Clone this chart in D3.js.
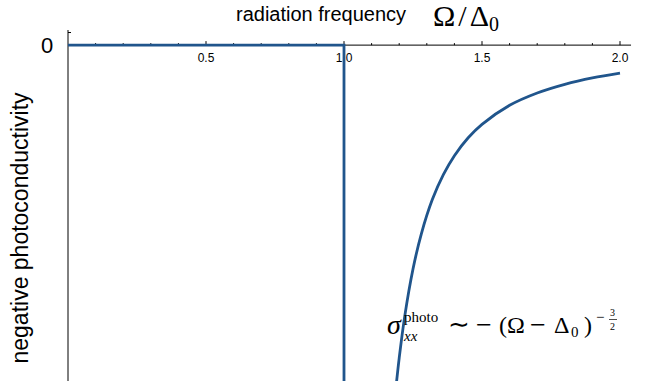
<!DOCTYPE html>
<html>
<head>
<meta charset="utf-8">
<script src="https://cdn.jsdelivr.net/npm/d3@7"></script>
<style>
  body { margin: 0; background: #fff; }
  svg { display: block; }
</style>
</head>
<body>
<div id="viz"></div>
<script>
// step part: zero below the gap, drops at Omega = Delta0
var stepOmega = [0, 1, 1];
var stepSigma = [0, 0, -12.5];

// divergent branch above the gap
var curveOmega = [1.19, 1.2, 1.22, 1.25, 1.28, 1.32, 1.36, 1.4, 1.45, 1.5, 1.6, 1.7, 1.8, 1.9, 2.0];
var curveSigma = [-12.07, -11.18, -9.69, -8.0, -6.75, -5.52, -4.63, -3.95, -3.31, -2.83, -2.15, -1.71, -1.40, -1.17, -1.0];

var majorTicks = [0.5, 1.0, 1.5, 2.0];
var minorTicks = [0.1, 0.2, 0.3, 0.4, 0.6, 0.7, 0.8, 0.9, 1.1, 1.2, 1.3, 1.4, 1.6, 1.7, 1.8, 1.9];

var W = 650, H = 381;
var blue = "#20558c";
var sans = "Liberation Sans, Arial, sans-serif";
var serif = "Liberation Serif, serif";

var svg = d3.select("#viz").append("svg")
  .attr("width", W)
  .attr("height", H);

var x = d3.scaleLinear().domain([0, 2]).range([68, 620]);
var y = d3.scaleLinear().domain([-12.0, 0.54]).range([381, 30]);

svg.append("defs").append("clipPath").attr("id", "clip")
  .append("rect").attr("x", 60).attr("y", 20).attr("width", 590).attr("height", H - 20);

// axes
svg.append("line")
  .attr("x1", x(0)).attr("x2", x(2.04))
  .attr("y1", y(0)).attr("y2", y(0))
  .attr("stroke", "#000").attr("stroke-width", 1);
svg.append("line")
  .attr("x1", x(0)).attr("x2", x(0))
  .attr("y1", y(0.54)).attr("y2", H)
  .attr("stroke", "#000").attr("stroke-width", 1);
svg.append("line")
  .attr("x1", x(0)).attr("x2", x(0) + 3)
  .attr("y1", y(0.45)).attr("y2", y(0.45))
  .attr("stroke", "#000").attr("stroke-width", 1);

svg.selectAll(".minor").data(minorTicks).enter().append("line")
  .attr("x1", function (d) { return x(d); }).attr("x2", function (d) { return x(d); })
  .attr("y1", y(0)).attr("y2", y(0) - 2)
  .attr("stroke", "#000").attr("stroke-width", 1);
svg.selectAll(".major").data(majorTicks).enter().append("line")
  .attr("x1", function (d) { return x(d); }).attr("x2", function (d) { return x(d); })
  .attr("y1", y(0)).attr("y2", y(0) - 4)
  .attr("stroke", "#000").attr("stroke-width", 1);
svg.selectAll(".tlabel").data(majorTicks).enter().append("text")
  .attr("x", function (d) { return x(d); })
  .attr("y", y(0) + 17)
  .attr("text-anchor", "middle")
  .style("font-family", sans)
  .style("font-size", "12px")
  .text(function (d) { return d.toFixed(1); });

// data lines
var line = d3.line()
  .x(function (d) { return x(d[0]); })
  .y(function (d) { return y(d[1]); });

var plot = svg.append("g").attr("clip-path", "url(#clip)");
plot.append("path")
  .datum(d3.zip(stepOmega, stepSigma))
  .attr("d", line)
  .attr("fill", "none").attr("stroke", blue).attr("stroke-width", 2.8);
plot.append("path")
  .datum(d3.zip(curveOmega, curveSigma))
  .attr("d", line.curve(d3.curveCatmullRom))
  .attr("fill", "none").attr("stroke", blue).attr("stroke-width", 2.8);

// labels
svg.append("text")
  .attr("x", 47).attr("y", y(0) + 8)
  .attr("text-anchor", "middle")
  .style("font-family", sans)
  .style("font-size", "22px")
  .text("0");

svg.append("text")
  .attr("x", 236).attr("y", 21)
  .style("font-family", sans)
  .style("font-size", "20px")
  .text("radiation frequency");

var om = svg.append("text")
  .attr("x", 433).attr("y", 26)
  .style("font-family", serif)
  .style("font-size", "30px");
om.append("tspan").text("\u03A9");
om.append("tspan").attr("dx", 3).text("/");
om.append("tspan").attr("dx", 3).text("\u0394");
om.append("tspan").attr("dy", 5).style("font-size", "20px").text("0");

svg.append("text")
  .attr("transform", "translate(28," + 228 + ") rotate(-90)")
  .attr("text-anchor", "middle")
  .style("font-family", sans)
  .style("font-size", "23px")
  .text("negative photoconductivity");

// annotation, each piece placed on its own
function tx(s, px, py, size, italic) {
  svg.append("text")
    .attr("x", px).attr("y", py)
    .style("font-family", serif)
    .style("font-size", size + "px")
    .style("font-style", italic ? "italic" : "normal")
    .text(s);
}
tx("\u03C3", 387, 334, 28, true);
tx("photo", 404, 322, 15, false);
tx("xx", 404, 341, 15, true);
tx("\u223C", 448, 333, 26, false);
tx("\u2212", 476, 334, 28, false);
tx("(\u03A9", 499, 333, 24, false);
tx("\u2212", 530, 334, 28, false);
tx("\u0394", 554, 333, 24, false);
tx("0", 571, 337, 15, false);
tx(")", 584, 333, 24, false);
tx("\u2212", 596, 322, 15, false);
tx("3", 610, 316, 10, false);
tx("2", 610, 330, 10, false);
svg.append("line")
  .attr("x1", 609).attr("x2", 617).attr("y1", 319.5).attr("y2", 319.5)
  .attr("stroke", "#000").attr("stroke-width", 0.7);
</script>
</body>
</html>
